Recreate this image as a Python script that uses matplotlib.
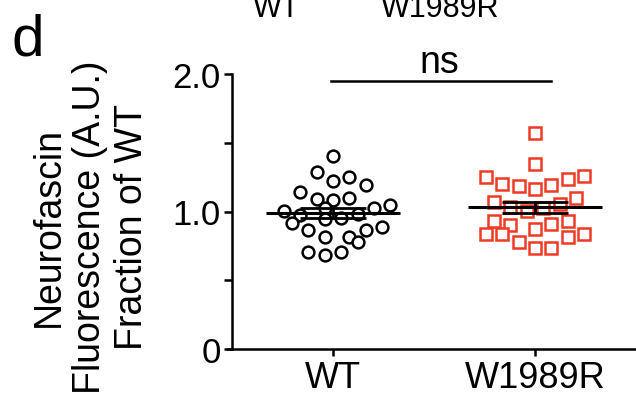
import numpy as np
import matplotlib.pyplot as plt

plt.rcParams['font.family'] = ['Liberation Sans', 'DejaVu Sans']

groups = ['WT', 'W1989R']

# values (fraction of WT)
wt_vals = [1.406, 1.29, 1.224, 1.253, 1.193, 1.14, 1.091, 1.086, 1.096,
           1.006, 0.975, 1.025, 0.945, 0.95, 0.982, 1.025, 1.047, 0.914,
           0.868, 0.817, 0.812, 0.78, 0.865, 0.885, 0.708, 0.684, 0.708]
wt_cols = [0, -2, 0, 2, 4, -4, -2, 0, 2, -6, -4, -1, -1, 1, 3, 5, 7, -5,
           -3, -1, 2, 3, 4, 6, -3, -1, 1]

mut_vals = [1.569, 1.345, 1.249, 1.2, 1.183, 1.164, 1.195, 1.236, 1.256,
            1.067, 1.031, 1.006, 1.023, 1.055, 1.098, 0.933, 0.902, 0.873,
            0.909, 0.933, 0.836, 0.836, 0.78, 0.732, 0.732, 0.812, 0.836]
mut_cols = [0, 0, -6, -4, -2, 0, 2, 4, 6, -5, -3, -1, 1, 3, 5, -5, -3, 0,
            2, 4, -6, -4, -2, 0, 2, 4, 6]

step = 0.0406
red = '#f03a24'

fig = plt.figure(figsize=(6.36, 4.02), dpi=100)
ax = fig.add_axes([232/636, 52/402, 404/636, 275/402])

# scatter
ax.plot(0 + step*np.array(wt_cols), wt_vals, 'o', ms=8.5, mfc='white',
        mec='black', mew=1.8, ls='none', zorder=2)
ax.plot(1 + step*np.array(mut_cols), mut_vals, 's', ms=8, mfc='white',
        mec=red, mew=1.8, ls='none', zorder=2)

# mean +/- SEM
for i, v in enumerate([wt_vals, mut_vals]):
    v = np.array(v)
    m = v.mean()
    sem = v.std(ddof=1) / np.sqrt(len(v))
    ax.hlines(m, i - 0.334, i + 0.334, color='black', lw=2.2, zorder=3)
    ax.errorbar(i, m, yerr=sem, color='black', lw=2, capsize=24,
                capthick=2, zorder=3)

# significance bar
ax.plot([-0.01, 1.08], [1.95, 1.95], color='black', lw=1.8, clip_on=False)
ax.text(0.525, 2.015, 'ns', ha='center', va='baseline', fontsize=27)

ax.set_xlim(-0.5, 1.5)
ax.set_ylim(0, 2.0)
ax.set_xticks([0, 1])
ax.set_xticklabels(groups, fontsize=26)
ax.set_yticks([0, 1.0, 2.0])
ax.set_yticklabels(['0', '1.0', '2.0'], fontsize=25)
ax.set_yticks([0.5, 1.5], minor=True)
ax.tick_params(axis='y', which='both', length=6, width=1.8, pad=2)
ax.tick_params(axis='x', length=5, width=1.8, pad=3)
ax.spines['top'].set_visible(False)
ax.spines['right'].set_visible(False)
ax.spines['left'].set_linewidth(1.8)
ax.spines['bottom'].set_linewidth(1.8)
ax.spines['bottom'].set_bounds(-0.52, 1.5)

fig.text(90/636, 1 - 227/402, 'Neurofascin\nFluorescence (A.U.)\nFraction of WT',
         rotation=90, ha='center', va='center', fontsize=27, linespacing=1.2,
         multialignment='center')

fig.text(11/636, 1 - 55/402, 'd', fontsize=42, ha='left', va='baseline')
fig.text(277/636, 1 - 17/402, 'WT', fontsize=22, ha='center', va='baseline')
fig.text(440/636, 1 - 17/402, 'W1989R', fontsize=22, ha='center', va='baseline')

fig.savefig('out.png', dpi=100)
